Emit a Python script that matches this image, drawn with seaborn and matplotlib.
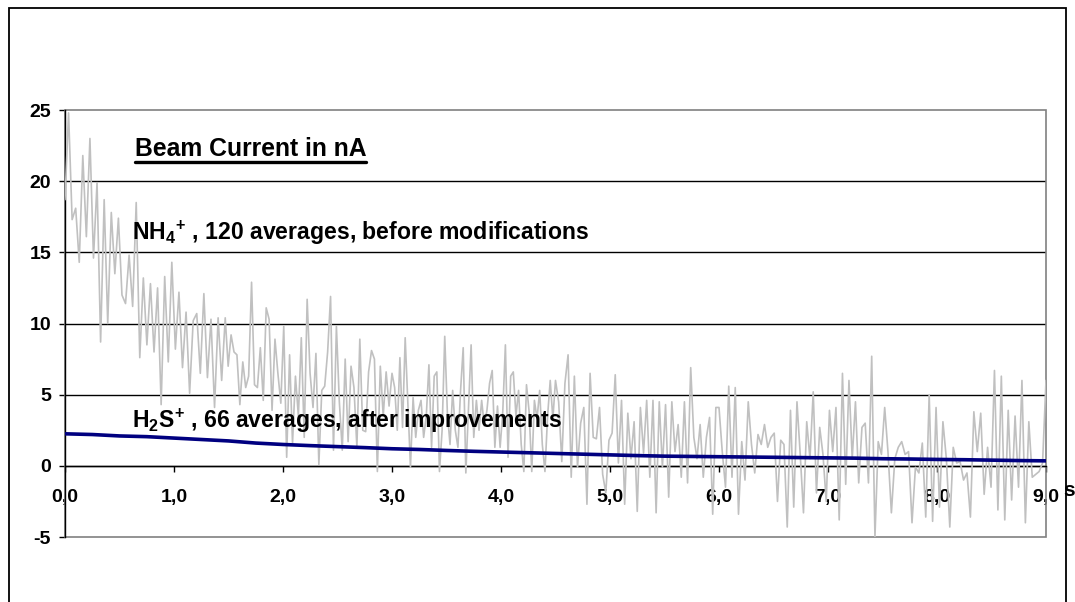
import numpy as np
import pandas as pd
import matplotlib
matplotlib.use("Agg")
import matplotlib.pyplot as plt
from matplotlib.patches import Rectangle
from matplotlib.lines import Line2D
from matplotlib.ticker import FuncFormatter
import seaborn as sns

# ---------------- data ----------------
# NH4+ beam current (nA) in six time segments
seg_bounds = [0.0, 1.47, 3.0, 4.5, 6.0, 7.55, 9.0]
nh4_seg1 = [18.7, 24.8, 17.3, 18.1, 14.3, 21.8, 16.1, 23.0, 14.6, 19.9, 8.7, 18.7, 10.0, 17.8,
            13.5, 17.4, 12.0, 11.4, 14.8, 11.2, 18.5, 7.6, 13.2, 8.5, 12.8, 8.0, 12.5, 4.3, 13.3,
            7.3, 14.3, 8.2, 12.2, 6.9, 10.8, 5.1, 10.2, 10.7, 6.5, 12.1, 6.2, 10.3, 4.1, 10.4, 6.0]
nh4_seg2 = [10.4, 7.0, 9.2, 8.0, 7.8, 4.3, 7.3, 5.5, 6.3, 12.9, 5.7, 5.5, 8.3, 4.6, 11.1, 10.3, 3.9,
            8.9, 6.5, 4.4, 9.8, 0.6, 7.8, 1.6, 6.3, 3.5, 9.0, 2.0, 11.7, 6.5, 4.1, 7.9, 0.1, 5.3,
            5.6, 8.0, 11.9, 1.1, 9.8, 4.5, 1.1, 7.5, 1.7, 7.0, 5.5, 1.3, 8.9, 2.5, 2.4, 6.6, 8.1,
            7.5, -0.4, 7.0, 3.5, 6.6, 4.2]
nh4_seg3 = [6.5, 5.5, 2.5, 7.6, 2.7, 9.0, 4.5, -0.1, 4.8, 2.0, 3.9, 4.6, 2.0, 3.5, 7.1, 1.3, 6.3,
            6.6, -0.4, 2.5, 9.1, 3.7, 1.5, 5.3, 2.5, 1.3, 5.3, 8.3, -0.5, 4.0, 8.5, 2.0, 4.6, 2.5,
            4.6, 2.8, 3.9, 5.8, 6.7, 1.3, 4.2, 1.3, 3.8, 8.5, 0.6, 6.3, 6.6, 3.5, 5.3, 1.5, -0.4,
            5.7, 3.8, -0.4, 4.6, 3.3, 5.3, 1.5, -0.4, 3.5, 6.0, 3.3]
nh4_seg4 = [6.0, 4.5, 0.3, 5.8, 7.8, -0.8, 6.3, -0.1, 3.0, 4.1, -2.7, 6.5, 2.0, 1.9, 4.1, -0.6,
            -1.9, 1.8, 2.3, 6.4, 0.2, 4.6, -2.7, 3.7, 0.5, 3.1, -3.2, 4.1, 0.9, 4.6, -0.8, 4.6,
            -3.3, 4.5, -0.1, 4.3, -2.2, 4.5, 1.0, 2.9, -0.8, 4.5, -1.2, 6.9, 2.0, 0.5, 2.9, -0.8,
            2.0, 3.4, -3.4, 4.1]
nh4_seg5 = [4.1, 1.0, -1.5, 5.6, -0.8, 5.5, -3.4, 1.7, -1.0, 4.5, 1.5, -0.5, 2.2, 1.5, 2.9, 1.3,
            2.0, 2.3, -2.5, 1.8, 1.5, -4.3, 3.9, -2.9, 4.5, 0.8, -3.3, 3.1, 0.5, 5.2, -1.9, 2.7,
            0.8, -2.5, 3.9, 1.0, 4.1, -3.8, 6.5, -1.3, 6.0, 0.5, 4.5, -1.2, 2.7, 3.0, -1.2, 7.7,
            -5.0, 1.7, 0.8, 4.1]
nh4_seg6 = [1.0, -3.3, 0.5, 1.3, 1.7, 0.8, 1.0, -4.0, -0.1, -0.5, 1.6, -3.6, 5.0, -3.9, 4.1, -2.9,
            3.1, 0.5, -4.3, 1.3, 0.2, 0.3, -1.0, -0.5, -3.6, 3.8, 1.0, 3.7, -2.0, 1.3, -1.5, 6.7,
            -3.1, 6.3, -3.8, 3.9, -2.4, 3.5, -1.5, 6.0, -4.0, 3.1, -0.8, -0.6, -0.4, 0.2, 6.0]
nh4_segments = [nh4_seg1, nh4_seg2, nh4_seg3, nh4_seg4, nh4_seg5, nh4_seg6]

# H2S+ beam current (nA), every 0.25 s
h2s_step = 0.25
h2s_values = [2.25, 2.2, 2.1, 2.05, 1.95, 1.85, 1.75, 1.6, 1.5, 1.42, 1.35, 1.28, 1.2, 1.15, 1.08,
              1.02, 0.97, 0.92, 0.87, 0.82, 0.77, 0.72, 0.68, 0.66, 0.64, 0.62, 0.6, 0.58, 0.56,
              0.54, 0.5, 0.48, 0.45, 0.43, 0.4, 0.37, 0.35]

y_ticks = [-5, 0, 5, 10, 15, 20, 25]
x_ticks = [0, 1, 2, 3, 4, 5, 6, 7, 8, 9]

title_text = "Beam Current in nA"
nh4_label = r"NH$_{4}$$^{+}$ , 120 averages, before modifications"
h2s_label = r"H$_{2}$S$^{+}$ , 66 averages, after improvements"
x_unit = "s"

# ---------------- build tables ----------------
t_parts = []
for i, seg in enumerate(nh4_segments):
    last = i == len(nh4_segments) - 1
    t_parts.append(np.linspace(seg_bounds[i], seg_bounds[i + 1], len(seg), endpoint=last))
nh4_df = pd.DataFrame({"t": np.concatenate(t_parts),
                       "I": np.concatenate([np.array(s, float) for s in nh4_segments])})
h2s_df = pd.DataFrame({"t": np.arange(len(h2s_values)) * h2s_step, "I": h2s_values})

# ---------------- style ----------------
sns.set_style("white")
plt.rcParams["font.family"] = ["Liberation Sans", "DejaVu Sans"]
plt.rcParams["font.weight"] = "bold"
plt.rcParams["text.color"] = "black"
plt.rcParams["xtick.color"] = "black"
plt.rcParams["ytick.color"] = "black"
plt.rcParams["xtick.labelcolor"] = "black"
plt.rcParams["ytick.labelcolor"] = "black"
plt.rcParams["mathtext.fontset"] = "custom"
plt.rcParams["mathtext.rm"] = "Liberation Sans:bold"
plt.rcParams["mathtext.it"] = "Liberation Sans:bold"
plt.rcParams["mathtext.bf"] = "Liberation Sans:bold"
plt.rcParams["mathtext.default"] = "rm"

fig = plt.figure(figsize=(10.75, 6.02), dpi=100)
ax = fig.add_axes([65 / 1075, 1 - 537 / 602, (1046 - 65) / 1075, (537 - 110) / 602])

sns.lineplot(data=nh4_df, x="t", y="I", ax=ax, color="#c0c0c0", linewidth=1.2,
             estimator=None, zorder=3)
sns.lineplot(data=h2s_df, x="t", y="I", ax=ax, color="#000080", linewidth=2.6,
             estimator=None, zorder=4)

ax.set_xlim(0, 9)
ax.set_ylim(-5, 25)
ax.set_xlabel("")
ax.set_ylabel("")
ax.set_yticks(y_ticks)
ax.set_xticks(x_ticks)
ax.xaxis.set_major_formatter(FuncFormatter(lambda v, p: f"{v:.1f}".replace(".", ",")))
ax.yaxis.set_major_formatter(FuncFormatter(lambda v, p: f"{int(v)}"))

for s in ["top", "right"]:
    ax.spines[s].set_visible(False)
ax.spines["left"].set_color("black")
ax.spines["left"].set_linewidth(1.0)
ax.spines["bottom"].set_position(("data", 0))
ax.spines["bottom"].set_color("black")
ax.spines["bottom"].set_linewidth(1.0)
ax.spines["bottom"].set_zorder(2)

# plot-area border (grey)
ax.add_patch(Rectangle((0, 0), 1, 1, transform=ax.transAxes, fill=False,
                       edgecolor="#808080", linewidth=1.2, zorder=1, clip_on=False))

ax.yaxis.grid(True, color="black", linewidth=1.0)
ax.xaxis.grid(False)
ax.set_axisbelow(True)

ax.tick_params(axis="y", direction="out", length=4, width=1, color="black",
               labelcolor="black", labelsize=14, pad=6, left=True)
ax.tick_params(axis="x", direction="out", length=4, width=1, color="black",
               labelcolor="black", labelsize=14, pad=13, bottom=True)
for lab in ax.get_xticklabels() + ax.get_yticklabels():
    lab.set_fontweight("bold")

fig.canvas.draw()
gl = ax.yaxis.get_gridlines()
for line, v in zip(gl, ax.get_yticks()):
    if v in (-5, 25):
        line.set_visible(False)

# annotations (data coordinates: time in s, current in nA)
title = ax.text(0.64, 21.75, title_text, fontsize=17.8, fontweight="bold", color="black",
                ha="left", va="baseline", zorder=6)
ax.text(0.615, 15.85, nh4_label, fontsize=16.6, fontweight="bold", color="black",
        ha="left", va="baseline", zorder=6)
ax.text(0.615, 2.65, h2s_label, fontsize=16.6, fontweight="bold", color="black",
        ha="left", va="baseline", zorder=6)
fig.text(1069 / 1075, 1 - 491 / 602, x_unit, fontsize=15, fontweight="bold", color="black",
         ha="center", va="center")

# underline of the title
fig.canvas.draw()
bb = title.get_window_extent()
uy = (bb.y0 - 1) / fig.bbox.height
fig.add_artist(Line2D([bb.x0 / fig.bbox.width, bb.x1 / fig.bbox.width], [uy, uy],
                      color="black", linewidth=2.4, transform=fig.transFigure))

# outer chart frame
fig.add_artist(Rectangle((9 / 1075, -0.02), (1066 - 9) / 1075, 1.02 - 8 / 602,
                         transform=fig.transFigure, fill=False, edgecolor="black",
                         linewidth=1.3))

fig.savefig("out.png", dpi=100)
